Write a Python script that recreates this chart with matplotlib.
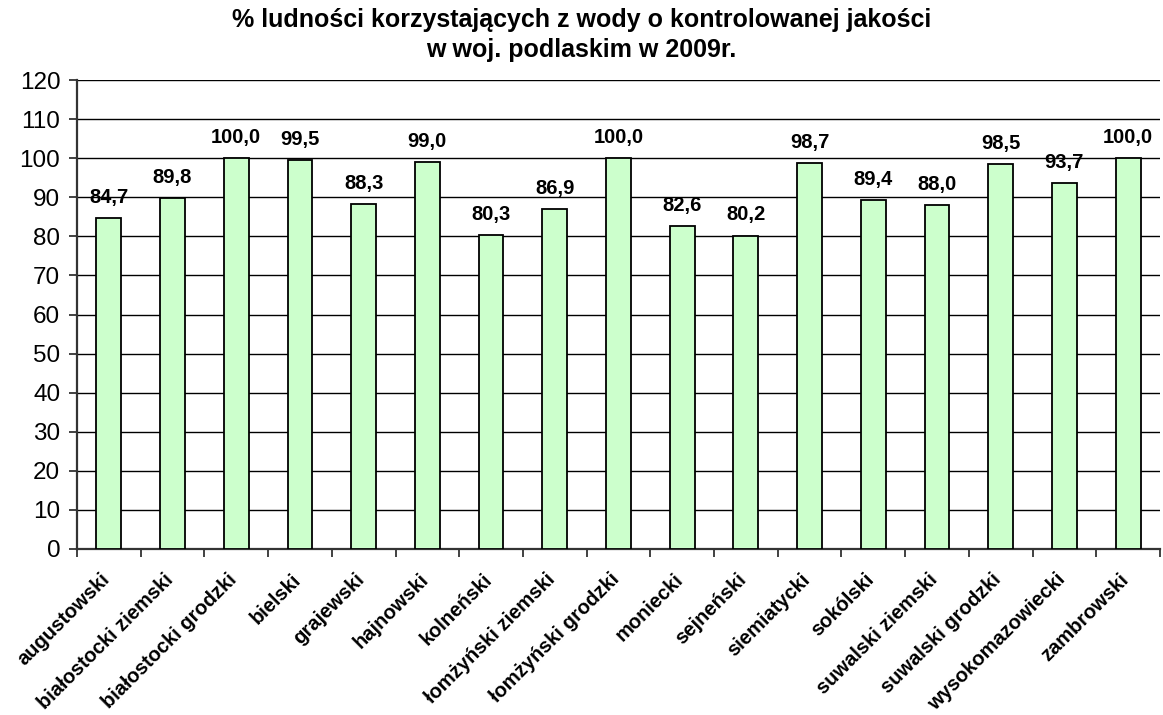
import matplotlib
matplotlib.use("Agg")
import matplotlib.pyplot as plt
import matplotlib.transforms as mtransforms
import numpy as np

categories = ["augustowski", "białostocki ziemski", "białostocki grodzki", "bielski",
              "grajewski", "hajnowski", "kolneński", "łomżyński ziemski",
              "łomżyński grodzki", "moniecki", "sejneński", "siemiatycki",
              "sokólski", "suwalski ziemski", "suwalski grodzki",
              "wysokomazowiecki", "zambrowski"]
values = [84.7, 89.8, 100.0, 99.5, 88.3, 99.0, 80.3, 86.9, 100.0, 82.6, 80.2,
          98.7, 89.4, 88.0, 98.5, 93.7, 100.0]
yticks = list(range(0, 121, 10))
title = "% ludności korzystających z wody o kontrolowanej jakości\nw woj. podlaskim w 2009r."

plt.rcParams['font.family'] = ['Liberation Sans', 'DejaVu Sans']

fig = plt.figure(figsize=(11.63, 7.15), dpi=100)
ax = fig.add_axes([0.0662, 0.2322, 0.9312, 0.6558])

x = np.arange(len(categories))
ax.bar(x, values, width=0.39, color="#CCFFCC", edgecolor="black", linewidth=1.3, zorder=3)

for xi, v in zip(x, values):
    ax.annotate(f"{v:.1f}".replace(".", ","), (xi, v), xytext=(0, 8),
                textcoords="offset points", ha="center", va="bottom",
                fontsize=14.5, fontweight="bold", zorder=4)

ax.set_xlim(-0.5, len(categories) - 0.5)
ax.set_ylim(0, 120)
ax.set_yticks(yticks)
ax.tick_params(axis="y", labelsize=17.5, length=6, width=1.3, direction="out",
               color="#333333", pad=6)
ax.yaxis.grid(True, color="black", linewidth=1.0, zorder=0)
ax.set_axisbelow(True)

ax.set_xticks(x)
ax.set_xticklabels(categories, rotation=45, ha="right", rotation_mode="anchor",
                   fontsize=14.5, fontweight="bold")
ax.tick_params(axis="x", length=0, pad=15)
offset = mtransforms.ScaledTranslation(-9 / 100, 0, fig.dpi_scale_trans)
for lbl in ax.get_xticklabels():
    lbl.set_transform(lbl.get_transform() + offset)
ax.set_xticks(np.arange(-0.5, len(categories), 1.0), minor=True)
ax.tick_params(axis="x", which="minor", length=6, width=1.3, color="#333333")

for s in ["top", "right"]:
    ax.spines[s].set_visible(False)
for s in ["left", "bottom"]:
    ax.spines[s].set_color("#333333")
    ax.spines[s].set_linewidth(1.6)

fig.text(0.5, 0.989, title, ha="center", va="top", fontsize=18,
         fontweight="bold", linespacing=1.3)

fig.savefig("out.png", dpi=100)
